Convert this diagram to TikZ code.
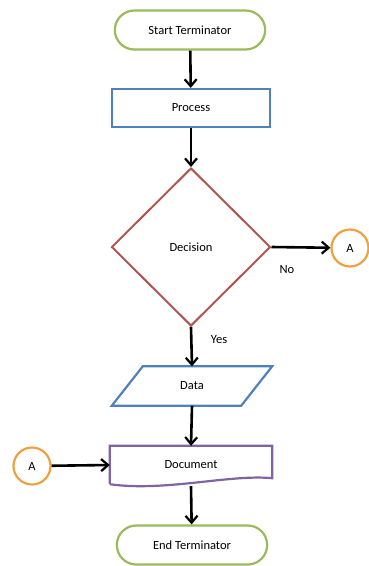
\documentclass[tikz,border=0pt]{standalone}
\usepackage{fontspec}
\setmainfont{Carlito}
\usetikzlibrary{shapes.geometric,shapes.misc,arrows.meta}
\definecolor{termgreen}{HTML}{9BBB59}
\definecolor{procblue}{HTML}{4F81BD}
\definecolor{decred}{HTML}{B0564F}
\definecolor{conorange}{HTML}{F0A040}
\definecolor{docpurple}{HTML}{8064A2}
\tikzset{
	terminator/.style={rounded rectangle, draw=termgreen, line width=2.2pt, minimum width=157pt, minimum height=39pt},
	processbox/.style={rectangle, draw=procblue, line width=2.2pt, minimum width=158pt, minimum height=38pt},
	decision/.style={diamond, draw=decred, line width=2pt, minimum width=159pt, minimum height=158pt, inner sep=0pt},
	connector/.style={circle, draw=conorange, line width=2.2pt, minimum size=37pt, inner sep=0pt},
	flow/.style={-{Straight Barb[length=7pt,width=12pt,line width=2.2pt]}, line width=2.6pt, black},
}
\begin{document}
\begin{tikzpicture}[x=1pt,y=-1pt,font=\fontsize{12.5}{14}\selectfont]
		\useasboundingbox (0,0) rectangle (369,566);
		% SHAPES
		\node [terminator] (start) at (190,30) {Start Terminator};
		\node [processbox] (proc) at (191,108) {Process};
		\node [decision] (dec) at (191,247) {Decision};
		\node [connector] (conA) at (350,248) {A};
		\node [minimum width=160pt, minimum height=39pt] (data) at (192,386) {Data};
		\draw [procblue,line width=2.2pt] ([xshift=31pt]data.north west) -- (data.north east) -- ([xshift=-31pt]data.south east) -- (data.south west) -- cycle;
		\node [minimum width=162pt, minimum height=38pt] (doc) at (191,465) {Document};
		\draw [docpurple,line width=2.2pt] (doc.south west) -- (doc.north west) -- (doc.north east) -- ([yshift=6pt]doc.south east) .. controls (230,474) and (165,492) .. (doc.south west);
		\node [connector] (conB) at (32,466) {A};
		\node [terminator] (stop) at (192,545) {End Terminator};
		% ARROWS
		\draw [flow] (start) -- (proc);
		\draw [flow] (proc) -- (dec);
		\draw [flow] (dec.east) -- (conA);
		\draw [flow] (dec.south) -- (data.north);
		\draw [flow] (data.south) -- (doc.north);
		\draw [flow] (conB) -- (doc.west);
		\draw [flow] ([yshift=-2pt]doc.south) -- (stop);
		% LABELS
		\node (no) at (287,270) {No};
		\node (yes) at (219,340) {Yes};
		\end{tikzpicture}
\end{document}
